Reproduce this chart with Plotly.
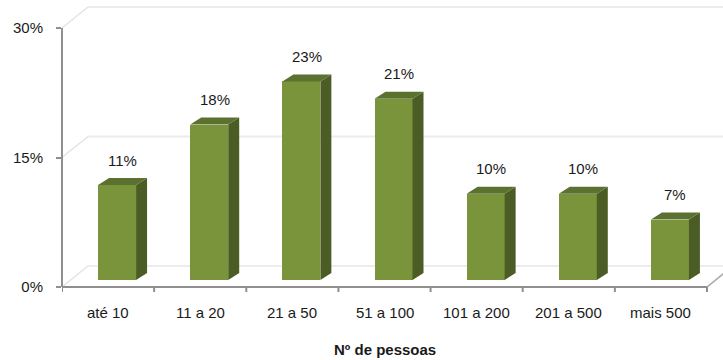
import plotly.graph_objects as go

# Survey result: share of companies by number of people
categories = ["até 10", "11 a 20", "21 a 50", "51 a 100", "101 a 200", "201 a 500", "mais 500"]
shares = [11, 18, 23, 21, 10, 10, 7]
y_ticks = [0, 15, 30]
y_tick_text = ["0%", "15%", "30%"]
x_title = "Nº de pessoas"

W, H = 723, 360
ML, MR, MT, MB = 62, 0, 0, 73
n = len(categories)
XPX = 645 / n            # pixels per category slot
YPX = 259 / 30           # pixels per percentage point

x_max = (W - ML - MR) / XPX
y_max = (H - MT - MB) / YPX

# pseudo-3D offsets (in data units)
wall_dx, wall_dy = 26 / XPX, 21 / YPX      # back wall depth
bar_dx, bar_dy = 9 / XPX, 7 / YPX          # bar front face position
dep_dx, dep_dy = 11 / XPX, 7 / YPX         # bar depth
bar_w = 38 / XPX

FRONT = "#7a943b"
SIDE = "#4b5d25"
TOP = "#5c7130"
AXIS = "#8f8f8f"
GRID = "#ececec"
FONT = dict(family="Liberation Sans, Arial, sans-serif", size=15, color="#1a1a1a")

fig = go.Figure()

shapes = []
# back wall gridlines and left wall diagonals
for v in y_ticks:
    shapes.append(dict(type="line", xref="x", yref="y", x0=wall_dx, y0=v + wall_dy,
                       x1=x_max, y1=v + wall_dy, line=dict(color=GRID, width=2), layer="below"))
    shapes.append(dict(type="line", xref="x", yref="y", x0=0, y0=v,
                       x1=wall_dx, y1=v + wall_dy, line=dict(color="#e4e4e4", width=1.5), layer="below"))
# floor right edge
shapes.append(dict(type="line", xref="x", yref="y", x0=n, y0=0, x1=n + wall_dx, y1=wall_dy,
                   line=dict(color="#a8a8a8", width=1.5), layer="below"))
# value axis line
shapes.append(dict(type="line", xref="paper", yref="y", x0=0, y0=0, x1=0, y1=y_ticks[-1],
                   line=dict(color=AXIS, width=2)))
# category axis line and tick marks between categories
shapes.append(dict(type="line", xref="x", yref="paper", x0=0, y0=0, x1=n, y1=0,
                   line=dict(color=AXIS, width=2)))
for k in range(n + 1):
    shapes.append(dict(type="line", xref="x", yref="paper", x0=k, y0=0, x1=k, y1=-5 / (H - MT - MB),
                       line=dict(color=AXIS, width=2)))

# bar front faces
xc = [i + 0.5 + bar_dx for i in range(n)]
fig.add_trace(go.Bar(x=xc, y=shares, base=bar_dy, width=bar_w,
                     marker=dict(color=FRONT, line=dict(width=0)), showlegend=False,
                     hoverinfo="skip"))

# side and top faces of each bar
for x, v in zip(xc, shares):
    l, r = x - bar_w / 2, x + bar_w / 2
    b, t = bar_dy, bar_dy + v
    fig.add_trace(go.Scatter(
        x=[r, r + dep_dx, r + dep_dx, r, r], y=[b, b + dep_dy, t + dep_dy, t, b],
        fill="toself", fillcolor=SIDE, mode="lines", line=dict(width=0),
        showlegend=False, hoverinfo="skip"))
    fig.add_trace(go.Scatter(
        x=[l, l + dep_dx, r + dep_dx, r, l], y=[t, t + dep_dy, t + dep_dy, t, t],
        fill="toself", fillcolor=TOP, mode="lines", line=dict(width=0),
        showlegend=False, hoverinfo="skip"))

annotations = []
# value labels
for x, v in zip(xc, shares):
    annotations.append(dict(x=x + dep_dx / 2, y=bar_dy + v, xref="x", yref="y", text=f"{v}%",
                            showarrow=False, yanchor="middle", yshift=25, font=FONT))
# category labels
for i, c in enumerate(categories):
    annotations.append(dict(x=i + 0.5, y=0, xref="x", yref="paper", text=c, showarrow=False,
                            yanchor="middle", yshift=-25, font=FONT))
# axis title
annotations.append(dict(x=n / 2, y=0, xref="x", yref="paper", text=f"<b>{x_title}</b>",
                        showarrow=False, yanchor="middle", yshift=-62, font=FONT))

fig.update_layout(
    width=W, height=H,
    margin=dict(l=ML, r=MR, t=MT, b=MB, pad=0),
    paper_bgcolor="white", plot_bgcolor="white",
    shapes=shapes, annotations=annotations,
    xaxis=dict(range=[0, x_max], showgrid=False, zeroline=False, showline=False,
               showticklabels=False, ticks="", fixedrange=True),
    yaxis=dict(range=[0, y_max], showgrid=False, zeroline=False, showline=False,
               tickvals=y_ticks, ticktext=y_tick_text, ticks="outside", ticklen=5,
               tickwidth=2, tickcolor=AXIS, ticklabelstandoff=10, tickfont=FONT,
               fixedrange=True),
    bargap=0,
)

fig.write_html("out.html", config={"displayModeBar": False})
